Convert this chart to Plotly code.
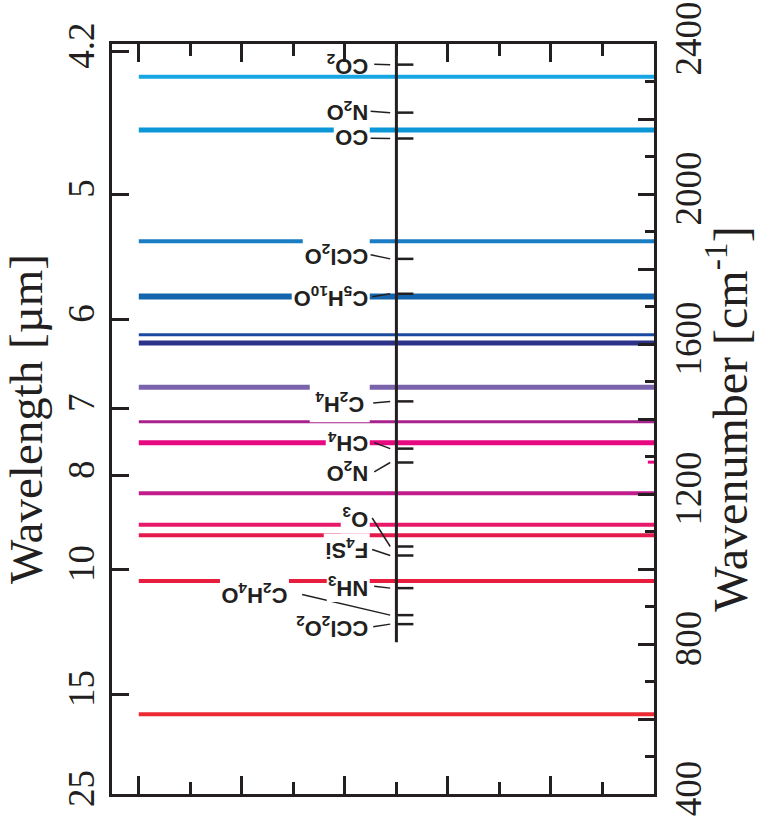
import plotly.graph_objects as go

# ---- data ----
# horizontal bands (wavenumber, cm-1) with colours and widths
band_nu = [2313, 2171, 1874, 1727, 1625, 1603, 1485, 1393, 1337, 1202, 1118, 1090, 968, 613]
band_color = ["#17a6e3", "#0b96d8", "#1a7dc4", "#1565ae", "#1a4aa0", "#2c3189",
              "#7a63aa", "#a8228d", "#e6097f", "#c01c8c", "#e8196a", "#e51b4d",
              "#e81c3c", "#ec2a33"]
band_width = [4, 5, 4, 6, 3, 5, 5, 3, 5, 4, 4, 4, 4, 4]
# short mark at right frame
edge_nu = [1285]
edge_color = ["#e6097f"]

# molecules: name, tick wavenumber, label wavenumber, label right edge (x units)
mol_name = ["CO<sub>2</sub>", "N<sub>2</sub>O", "CO", "CCl<sub>2</sub>O", "C<sub>5</sub>H<sub>10</sub>O",
            "C<sub>2</sub>H<sub>4</sub>", "CH<sub>4</sub>", "N<sub>2</sub>O", "O<sub>3</sub>",
            "F<sub>4</sub>Si", "NH<sub>3</sub>", "C<sub>2</sub>H<sub>4</sub>O", "CCl<sub>2</sub>O<sub>2</sub>"]
mol_nu = [2345, 2217, 2148, 1827, 1734, 1447, 1321, 1284, 1060, 1036, 949, 877, 853]
label_nu = [2346, 2221, 2149, 1838, 1726, 1443, 1337, 1259, 1136, 1052, 954, 932, 846]
label_x = [4.49, 4.49, 4.49, 4.49, 4.49, 4.49, 4.49, 4.49, 4.49, 4.49, 4.49, 2.92, 4.49]
# white knock-out padding around each label (None = transparent)
knock_pad = [None, None, 1, 1, 1, 5, 1, None, 1, 1, 1, 1, None]
leader_x0 = [4.57, 4.50, 4.50, 4.50, 4.53, 4.55, 4.57, 4.57, 4.53, 4.53, 4.57, 3.17, 4.55]

center_bottom = 805

wl_ticks = [4.2, 5, 6, 7, 8, 10, 15, 25]
wl_labels = ["4.2", "5", "6", "7", "8", "10", "15", "25"]
wn_ticks = list(range(400, 2401, 200))
wn_labels = [str(v) if v % 400 == 0 else "" for v in wn_ticks]

INK = "#231f20"
SERIF = "Liberation Serif"
SANS = "Liberation Sans"

fig = go.Figure()

for nu, c, w in zip(band_nu, band_color, band_width):
    fig.add_trace(go.Scatter(x=[0, 10], y=[nu, nu], mode="lines",
                             line=dict(color=c, width=w), hoverinfo="skip", showlegend=False))
for nu, c in zip(edge_nu, edge_color):
    fig.add_trace(go.Scatter(x=[9.88, 10], y=[nu, nu], mode="lines",
                             line=dict(color=c, width=3), hoverinfo="skip", showlegend=False))

# central line
fig.add_trace(go.Scatter(x=[5, 5], y=[center_bottom, 2400], mode="lines",
                         line=dict(color=INK, width=3), hoverinfo="skip", showlegend=False))
# ticks on the central line
for nu in mol_nu:
    fig.add_trace(go.Scatter(x=[5, 5.33], y=[nu, nu], mode="lines", yaxis="y2",
                             line=dict(color=INK, width=2.5), hoverinfo="skip", showlegend=False))
# leaders
for nu, lnu, x0 in zip(mol_nu, label_nu, leader_x0):
    fig.add_trace(go.Scatter(x=[x0, 4.88], y=[lnu, nu], mode="lines",
                             line=dict(color=INK, width=1.5), hoverinfo="skip", showlegend=False))

annotations = []
for name, lnu, lx, kp in zip(mol_name, label_nu, label_x, knock_pad):
    annotations.append(dict(x=lx, y=lnu, xref="x", yref="y", text=name, showarrow=False,
                            textangle=180, xanchor="right", yanchor="middle",
                            bgcolor="white" if kp is not None else "rgba(0,0,0,0)",
                            borderpad=kp if kp is not None else 1,
                            font=dict(family=SANS, size=22, color=INK, weight=700)))

fig.update_layout(
    width=757, height=835,
    margin=dict(l=112, r=103, t=44, b=41, autoexpand=False),
    paper_bgcolor="white", plot_bgcolor="white",
    annotations=annotations,
    xaxis=dict(range=[-0.52, 10], showgrid=False, zeroline=False, showticklabels=False,
               showline=True, linewidth=3, linecolor=INK, mirror="ticks",
               ticks="inside", tickvals=[0, 2, 4, 6, 8, 10], ticklen=18, tickwidth=3, tickcolor=INK,
               minor=dict(tickvals=[1, 3, 5, 7, 9], ticks="inside", ticklen=12, tickwidth=3, tickcolor=INK)),
    yaxis=dict(range=[400, 2400], showgrid=False, zeroline=False, automargin=False,
               showline=True, linewidth=3, linecolor=INK,
               ticks="inside", tickvals=[10000 / w for w in wl_ticks], ticktext=wl_labels,
               ticklen=17, tickwidth=3, tickcolor=INK, tickangle=-90, ticklabeloverflow="allow",
               tickfont=dict(family=SERIF, size=37, color=INK),
               title=dict(text="Wavelength [µm]", font=dict(family=SERIF, size=47, color=INK), standoff=6)),
    yaxis2=dict(range=[400, 2400], overlaying="y", side="right", showgrid=False, zeroline=False,
                automargin=False,
                showline=True, linewidth=3, linecolor=INK,
                ticks="inside", tickvals=wn_ticks, ticktext=wn_labels,
                ticklen=16, tickwidth=3, tickcolor=INK, tickangle=-90, ticklabeloverflow="allow",
                minor=dict(dtick=100, ticks="inside", ticklen=9, tickwidth=3, tickcolor=INK),
                tickfont=dict(family=SERIF, size=37, color=INK),
                title=dict(text="Wavenumber [cm<sup>-1</sup>]", font=dict(family=SERIF, size=48, color=INK), standoff=4)),
)

fig.write_html("out.html")
